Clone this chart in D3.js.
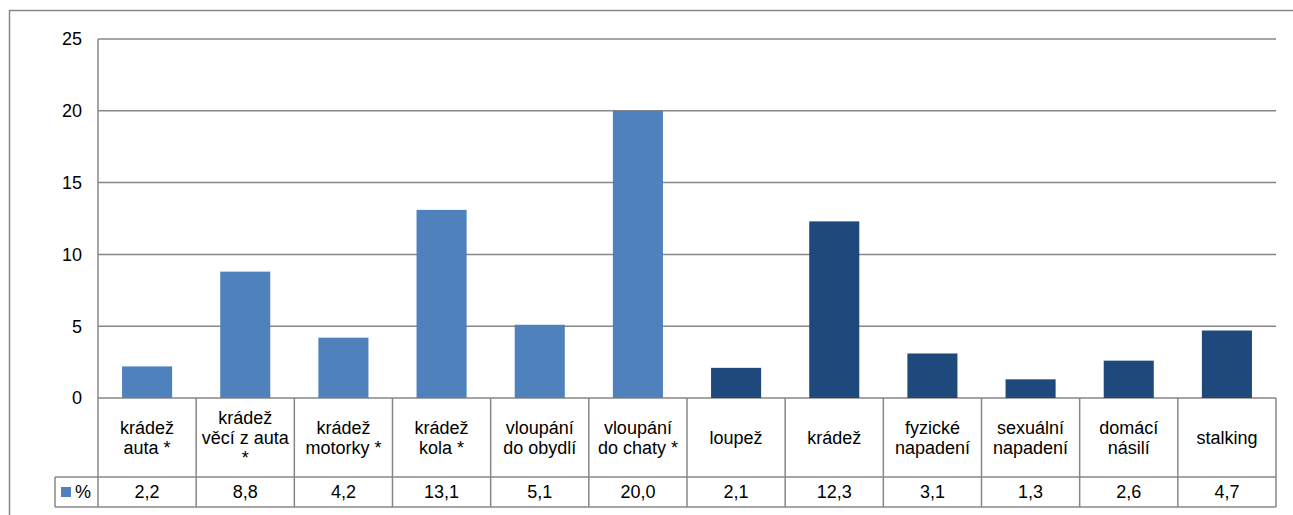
<!DOCTYPE html>
<html>
<head>
<meta charset="utf-8">
<script src="https://cdn.jsdelivr.net/npm/d3@7"></script>
<style>
  body { margin: 0; background: #fff; }
  svg { display: block; font-family: "Liberation Sans", Arial, sans-serif; }
</style>
</head>
<body>
<div id="chart"></div>
<script>
// categories (lines of the table header) and values
const categories = [
    ["krádež", "auta *"],
    ["krádež", "věcí z auta", "*"],
    ["krádež", "motorky *"],
    ["krádež", "kola *"],
    ["vloupání", "do obydlí"],
    ["vloupání", "do chaty *"],
    ["loupež"],
    ["krádež"],
    ["fyzické", "napadení"],
    ["sexuální", "napadení"],
    ["domácí", "násilí"],
    ["stalking"]
];
const values = [2.2, 8.8, 4.2, 13.1, 5.1, 20.0, 2.1, 12.3, 3.1, 1.3, 2.6, 4.7];
const groups = ["prop", "prop", "prop", "prop", "prop", "prop", "pers", "pers", "pers", "pers", "pers", "pers"];
const yTicks = [0, 5, 10, 15, 20, 25];
const seriesName = "%";

const W = 1293, H = 515;
const plotLeft = 98, plotRight = 1276, plotTop = 39, zeroY = 398;
const headerBottom = 477, valueBottom = 507, legendLeft = 55;
const gridColor = "#878787";
const colors = { prop: "#4f81bd", pers: "#1f497d" };
const fontSize = 18;

const svg = d3.select("#chart").append("svg")
    .attr("width", W)
    .attr("height", H);

// outer chart border
svg.append("path")
    .attr("d", `M9.5,${H} V10.5 H${W}`)
    .attr("fill", "none")
    .attr("stroke", gridColor)
    .attr("stroke-width", 1.5);

const x = d3.scaleBand()
    .domain(d3.range(values.length))
    .range([plotLeft, plotRight])
    .padding(0);

const y = d3.scaleLinear()
    .domain([0, 25])
    .range([zeroY, plotTop]);

// gridlines
svg.append("g")
    .selectAll("line")
    .data(yTicks)
    .enter().append("line")
    .attr("x1", plotLeft).attr("x2", plotRight)
    .attr("y1", d => y(d)).attr("y2", d => y(d))
    .attr("stroke", gridColor)
    .attr("stroke-width", 1.5);

// y axis line
svg.append("line")
    .attr("x1", plotLeft).attr("x2", plotLeft)
    .attr("y1", plotTop).attr("y2", zeroY)
    .attr("stroke", gridColor)
    .attr("stroke-width", 1.5);

// y tick labels
svg.append("g")
    .selectAll("text")
    .data(yTicks)
    .enter().append("text")
    .attr("x", 82)
    .attr("y", d => y(d))
    .attr("dy", "0.35em")
    .attr("text-anchor", "end")
    .attr("font-size", fontSize)
    .attr("fill", "#000")
    .text(d => d);

// bars
const barW = x.bandwidth() * 0.51;
svg.append("g")
    .selectAll("rect")
    .data(values)
    .enter().append("rect")
    .attr("x", (d, i) => x(i) + (x.bandwidth() - barW) / 2)
    .attr("y", d => y(d))
    .attr("width", barW)
    .attr("height", d => y(0) - y(d))
    .attr("fill", (d, i) => colors[groups[i]]);

// data table
const table = svg.append("g")
    .attr("stroke", gridColor)
    .attr("stroke-width", 1.5)
    .attr("fill", "none");

table.append("line")
    .attr("x1", legendLeft).attr("x2", plotRight)
    .attr("y1", headerBottom).attr("y2", headerBottom);
table.append("line")
    .attr("x1", legendLeft).attr("x2", plotRight)
    .attr("y1", valueBottom).attr("y2", valueBottom);
table.append("line")
    .attr("x1", legendLeft).attr("x2", legendLeft)
    .attr("y1", headerBottom).attr("y2", valueBottom);
table.selectAll(".v")
    .data(d3.range(values.length + 1))
    .enter().append("line")
    .attr("x1", i => i < values.length ? x(i) : plotRight)
    .attr("x2", i => i < values.length ? x(i) : plotRight)
    .attr("y1", zeroY).attr("y2", valueBottom);

// header labels
const hdr = svg.append("g")
    .attr("font-size", fontSize)
    .attr("fill", "#000")
    .attr("text-anchor", "middle");
categories.forEach((lines, i) => {
    const cx = x(i) + x.bandwidth() / 2;
    const mid = (zeroY + headerBottom) / 2;
    const lh = 20;
    lines.forEach((ln, j) => {
        hdr.append("text")
            .attr("x", cx)
            .attr("y", mid + (j - (lines.length - 1) / 2) * lh)
            .attr("dy", "0.35em")
            .text(ln);
    });
});

// value row
const fmt = v => v.toFixed(1).replace(".", ",");
svg.append("g")
    .selectAll("text")
    .data(values)
    .enter().append("text")
    .attr("x", (d, i) => x(i) + x.bandwidth() / 2)
    .attr("y", (headerBottom + valueBottom) / 2)
    .attr("dy", "0.35em")
    .attr("text-anchor", "middle")
    .attr("font-size", fontSize)
    .text(d => fmt(d));

// legend key
svg.append("rect")
    .attr("x", 61).attr("y", 487)
    .attr("width", 10).attr("height", 10)
    .attr("fill", colors.prop);
svg.append("text")
    .attr("x", 75)
    .attr("y", (headerBottom + valueBottom) / 2)
    .attr("dy", "0.35em")
    .attr("font-size", fontSize)
    .text(seriesName);
</script>
</body>
</html>
